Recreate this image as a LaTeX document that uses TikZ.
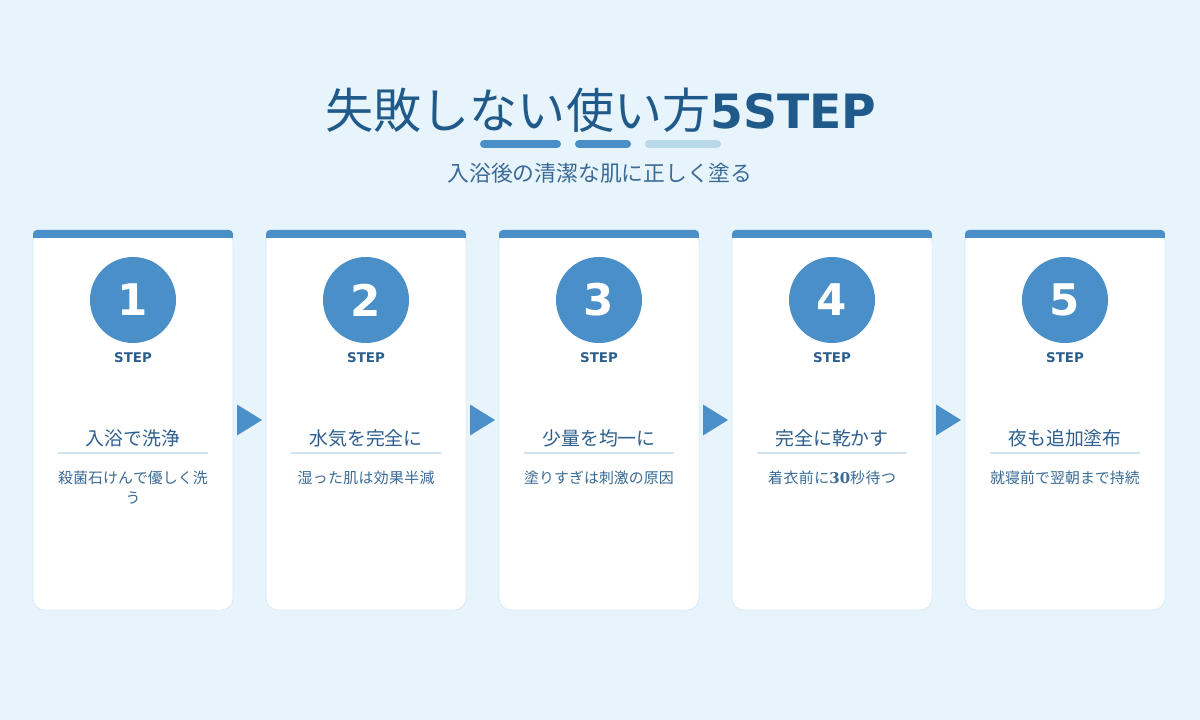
\documentclass[tikz,border=0pt]{standalone}
\usepackage{fontspec}
\setmainfont{Noto Sans CJK JP}
\newfontfamily\stepfont{DejaVu Sans}
\newfontfamily\numserif{DejaVu Serif}
\XeTeXlinebreaklocale "ja"
\XeTeXlinebreakskip=0pt plus 1pt
\usetikzlibrary{positioning,calc}
\definecolor{bgblue}{HTML}{E8F4FB}
\definecolor{accent}{HTML}{4A8FC8}
\definecolor{softbar}{HTML}{B8D8EA}
\definecolor{titleblue}{HTML}{1F5A8A}
\definecolor{textblue}{HTML}{2C5F8E}
\definecolor{descblue}{HTML}{3A6A95}
\definecolor{cardline}{HTML}{D2E5F2}
\definecolor{ruleblue}{HTML}{CFE3F0}

\begin{document}
\begin{tikzpicture}[x=0.025cm, y=-0.025cm,
    card/.style={draw=cardline, fill=white, rounded corners=0.3cm, minimum width=5cm,
                 minimum height=9.5cm, inner sep=0pt, outer sep=0pt},
    num/.style={circle, fill=accent, minimum size=2.15cm, inner sep=0pt, text=white,
                font=\stepfont\bfseries\fontsize{31}{31}\selectfont},
    steplbl/.style={text=textblue, font=\stepfont\bfseries\fontsize{9.5}{10}\selectfont},
    head/.style={text=textblue, font=\fontsize{13.4}{16}\selectfont},
    rule/.style={draw=ruleblue, line width=0.05cm},
    desc/.style={text=descblue, font=\fontsize{10.6}{14.2}\selectfont, align=center,
                 text width=3.8cm, anchor=north, inner sep=0pt}
  ]
    \fill[bgblue] (0,0) rectangle (1200,720);

    % Title and subtitle
    \node[text=titleblue, font=\fontsize{34.2}{40}\selectfont] (title) at (601,110)
      {失敗しない使い方{\stepfont\bfseries\fontsize{33.6}{38}\selectfont 5STEP}};
    \draw[accent, line width=0.2cm, line cap=round] (484,144) -- (557,144);
    \draw[accent, line width=0.2cm, line cap=round] (579,144) -- (627,144);
    \draw[softbar, line width=0.2cm, line cap=round] (649,144) -- (717,144);
    \node[text=descblue, font=\fontsize{15.5}{18}\selectfont] (sub) at (600,173)
      {入浴後の清潔な肌に正しく塗る};

    % Step 1
    \node[card] (card1) at (133,420) {};
    \fill[accent, rounded corners=0.1cm] (card1.north west) rectangle ($(card1.north east)+(0,8)$);
    \fill[accent] ($(card1.north west)+(0,4)$) rectangle ($(card1.north east)+(0,8)$);
    \node[num] (num1) at (133,300) {1};
    \node[steplbl] (lbl1) at (133,358) {STEP};
    \node[head] (head1) at (133,438) {入浴で洗浄};
    \draw[rule] (58,453) -- (208,453);
    \node[desc] (desc1) at (133,471) {殺菌石けんで優しく洗\\う};

    % Step 2
    \node[card] (card2) at (366,420) {};
    \fill[accent, rounded corners=0.1cm] (card2.north west) rectangle ($(card2.north east)+(0,8)$);
    \fill[accent] ($(card2.north west)+(0,4)$) rectangle ($(card2.north east)+(0,8)$);
    \node[num] (num2) at (366,300) {2};
    \node[steplbl] (lbl2) at (366,358) {STEP};
    \node[head] (head2) at (366,438) {水気を完全に};
    \draw[rule] (291,453) -- (441,453);
    \node[desc] (desc2) at (366,471) {湿った肌は効果半減};

    % Step 3
    \node[card] (card3) at (599,420) {};
    \fill[accent, rounded corners=0.1cm] (card3.north west) rectangle ($(card3.north east)+(0,8)$);
    \fill[accent] ($(card3.north west)+(0,4)$) rectangle ($(card3.north east)+(0,8)$);
    \node[num] (num3) at (599,300) {3};
    \node[steplbl] (lbl3) at (599,358) {STEP};
    \node[head] (head3) at (599,438) {少量を均一に};
    \draw[rule] (524,453) -- (674,453);
    \node[desc] (desc3) at (599,471) {塗りすぎは刺激の原因};

    % Step 4
    \node[card] (card4) at (832,420) {};
    \fill[accent, rounded corners=0.1cm] (card4.north west) rectangle ($(card4.north east)+(0,8)$);
    \fill[accent] ($(card4.north west)+(0,4)$) rectangle ($(card4.north east)+(0,8)$);
    \node[num] (num4) at (832,300) {4};
    \node[steplbl] (lbl4) at (832,358) {STEP};
    \node[head] (head4) at (832,438) {完全に乾かす};
    \draw[rule] (757,453) -- (907,453);
    \node[desc] (desc4) at (832,471) {着衣前に{\numserif\bfseries 30}秒待つ};

    % Step 5
    \node[card] (card5) at (1065,420) {};
    \fill[accent, rounded corners=0.1cm] (card5.north west) rectangle ($(card5.north east)+(0,8)$);
    \fill[accent] ($(card5.north west)+(0,4)$) rectangle ($(card5.north east)+(0,8)$);
    \node[num] (num5) at (1065,300) {5};
    \node[steplbl] (lbl5) at (1065,358) {STEP};
    \node[head] (head5) at (1065,438) {夜も追加塗布};
    \draw[rule] (990,453) -- (1140,453);
    \node[desc] (desc5) at (1065,471) {就寝前で翌朝まで持続};

    % Arrows between steps
    \fill[accent] ($(card1.east)+(4,-15.5)$) -- ($(card1.east)+(29,0)$) -- ($(card1.east)+(4,15.5)$) -- cycle;
    \fill[accent] ($(card2.east)+(4,-15.5)$) -- ($(card2.east)+(29,0)$) -- ($(card2.east)+(4,15.5)$) -- cycle;
    \fill[accent] ($(card3.east)+(4,-15.5)$) -- ($(card3.east)+(29,0)$) -- ($(card3.east)+(4,15.5)$) -- cycle;
    \fill[accent] ($(card4.east)+(4,-15.5)$) -- ($(card4.east)+(29,0)$) -- ($(card4.east)+(4,15.5)$) -- cycle;
  \end{tikzpicture}
\end{document}
